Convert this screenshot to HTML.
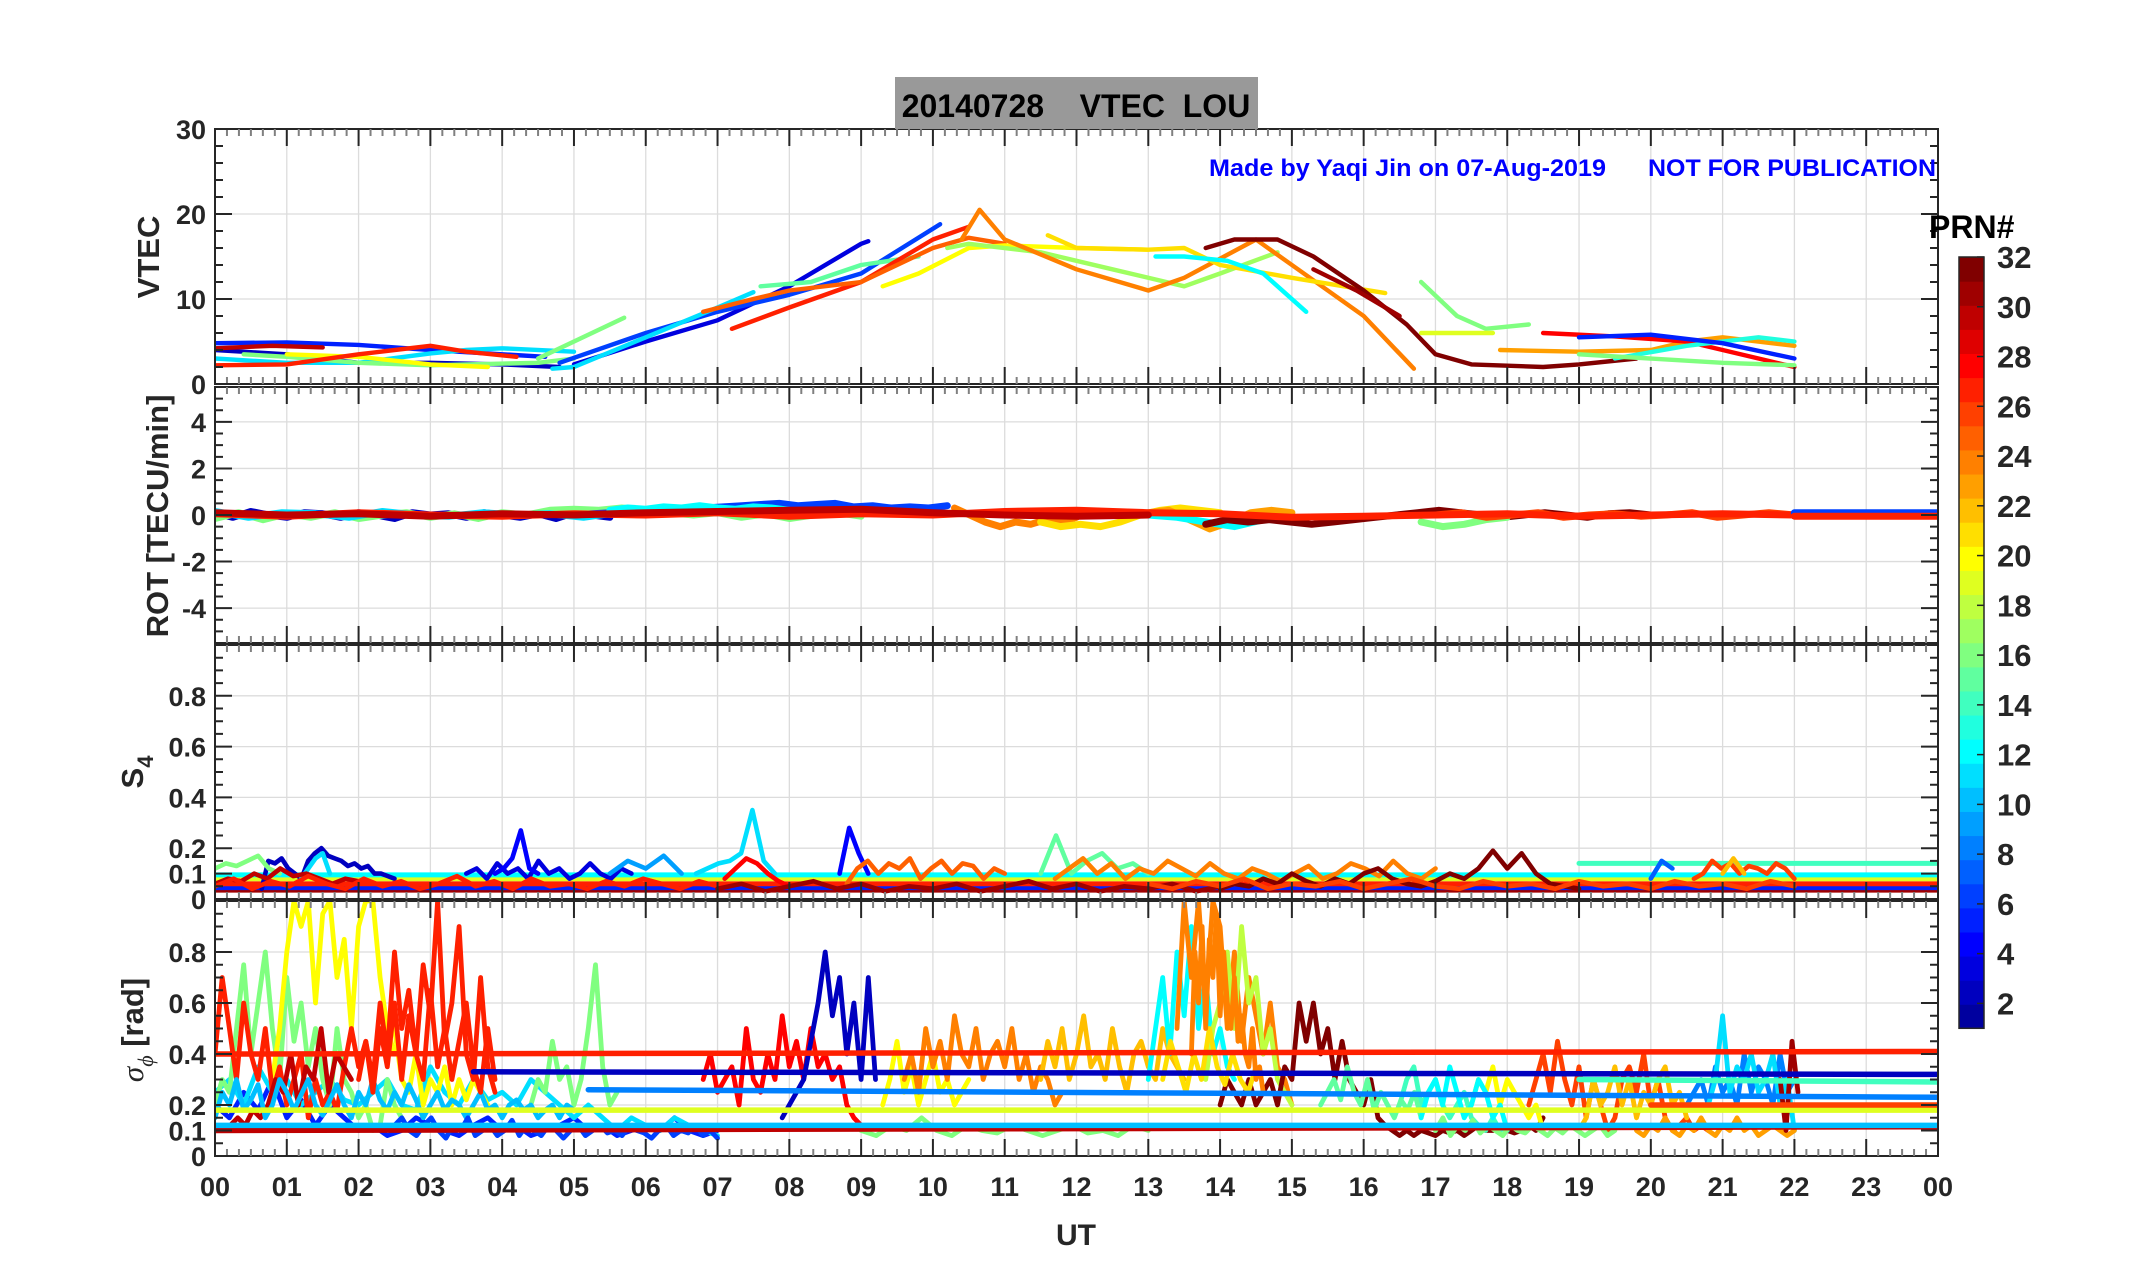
<!DOCTYPE html>
<html><head><meta charset="utf-8"><style>
html,body{margin:0;padding:0;background:#fff}
svg{display:block}
text{font-family:"Liberation Sans",Arial,sans-serif;font-weight:bold}
</style></head><body>
<svg id="fig" width="2153" height="1286" viewBox="0 0 2153 1286" xmlns="http://www.w3.org/2000/svg">
<rect x="0" y="0" width="2153" height="1286" fill="#fff"/>
<g id="grids"></g>
<g id="marks"></g>
<g id="axes"></g>
<rect x="895" y="77" width="363" height="52" fill="#999999"/>
<text x="1076" y="117" font-size="32" text-anchor="middle" fill="#000" xml:space="preserve">20140728    VTEC  LOU</text>
<text x="1209" y="176" font-size="24" fill="#0000ff" textLength="397" lengthAdjust="spacingAndGlyphs">Made by Yaqi Jin on 07-Aug-2019</text>
<text x="1648" y="176" font-size="24" fill="#0000ff" textLength="288" lengthAdjust="spacingAndGlyphs">NOT FOR PUBLICATION</text>
<text transform="translate(159,257) rotate(-90)" font-size="31" text-anchor="middle" fill="#262626">VTEC</text>
<text transform="translate(168,516) rotate(-90)" font-size="31" text-anchor="middle" fill="#262626">ROT [TECU/min]</text>
<text transform="translate(143,772) rotate(-90)" font-size="31" text-anchor="middle" fill="#262626">S<tspan font-size="22" dy="10">4</tspan></text>
<text transform="translate(143,1030) rotate(-90)" font-size="31" text-anchor="middle" fill="#262626"><tspan font-family="Liberation Serif" font-style="italic" font-weight="normal">σ</tspan><tspan font-size="22" dy="10" font-family="Liberation Serif" font-style="italic" font-weight="normal">ϕ</tspan><tspan dy="-10"> [rad]</tspan></text>
<text x="1076" y="1245" font-size="30" text-anchor="middle" fill="#262626">UT</text>
<text x="1929" y="238" font-size="32" fill="#000">PRN#</text>
<g id="cbar"></g>
</svg>
<script>
// ---------------- data ----------------
const xTickLabels=["00","01","02","03","04","05","06","07","08","09","10","11","12","13","14","15","16","17","18","19","20","21","22","23","00"];
const vtecTicks=[0,10,20,30];
const rotTicks=[-4,-2,0,2,4];
const s4Ticks=[0,0.1,0.2,0.4,0.6,0.8];
const sigTicks=[0,0.1,0.2,0.4,0.6,0.8];
const cbarTicks=[2,4,6,8,10,12,14,16,18,20,22,24,26,28,30,32];

// VTEC curves: PRN, times (h), values (TECU)
const vtecPrn=[2,5,11,16,20,27,30,3,6,11,16,15,27,25,20,17,24,21,12,32,31,16,19,23,28,13,5,16];
const vtecT=[
[0,1,2,3,4,4.8],[0,1,2,3,4,4.6],[0,1,2,3,3.5,4,5],[0.4,1,2,3,4.5,5.0],[1,2,3,3.8],[0,1,2,3,3.5,4.2],[0,0.8,1.5],
[5.0,6,7,8,9,9.1],[4.8,6,7,8,9,10.1],[4.7,5,6,7,7.5],[4.5,5.7],[7.6,8.3,9,9.8],[7.2,8,9,10,10.5],[6.8,7.5,8,9,10,10.5,11],
[9.3,9.8,10.5,11,12,13],[10.2,10.5,11.5,12.5,13.5,14,14.8],[10.4,10.65,11,12,13,13.5,14.5,15,16,16.7],[11.6,12,13,13.5,14,15,16.3],
[13.1,13.5,14.1,14.6,15.2],[13.8,14.2,14.8,15.3,16,16.6,17,17.5,18.5,19,19.8],[15.3,15.9,16.5],[16.8,17.3,17.7,18.3],[16.8,17.8],
[17.9,19,20,20.5,21,22],[18.5,19.5,20.5,21.5,22],[19.5,20.5,21.5,22],[19,20,21,22],[19,21,22]];
const vtecV=[
[4,3.5,2.5,2.5,2.3,2],[4.8,4.9,4.6,4,3.5,3.2],[3,2.5,2.5,3.6,4,4.2,3.8],[3.5,3.2,2.5,2.2,2.5,3],[3.5,3.2,2.3,2],[2.2,2.3,3.5,4.5,3.8,3.2],[4.2,4.5,4.3],
[2.3,5,7.5,11.5,16.5,16.8],[2.5,6,8.5,10.5,13,18.8],[1.8,2,5.5,9,10.8],[3,7.8],[11.5,12,14,15],[6.5,9,12,17,18.5],[8.5,10,11,12,16,17.2,16.5],
[11.5,13,16,16.3,16,15.8],[16,16.5,15.5,13.5,11.5,13,15.5],[17,20.5,17,13.5,11,12.5,17,14,8,1.8],[17.5,16,15.8,16,14,12.5,10.7],
[15,15,14.5,13,8.5],[16,17,17,15,11,7,3.5,2.3,2,2.3,3],[13.5,11,8],[12,8,6.5,7],[6,6],
[4,3.8,4,5,5.5,4.5],[6,5.6,5,3,2],[3,4.5,5.5,5],[5.5,5.8,4.8,3],[3.5,2.5,2.2]];

// ROT segments: PRN, start, end, evenly spaced values (TECU/min)
const rotPrn=[2,16,11,6,12,24,21,23,12,32,16,26,27,30,6,27];
const rotT0=[0,0,0,5,5.5,10.3,11.5,13,13,13.8,16.8,17,0,0,22,22];
const rotT1=[5.5,9,7,10.2,8,12,14,15,14.6,20,18,22,22,13,24,24];
const rotV=[
[0.1,-0.1,0.15,0,-0.1,0.1,0.05,-0.1,0.1,0,-0.15,0.1,0,0.05,-0.1,0.1,0,-0.1,0.05,-0.15,0.1,0,-0.1],
[-0.15,0.1,-0.2,0.05,-0.1,0.1,-0.15,0,0.1,-0.1,0.05,-0.15,0.1,0,0.2,0.25,0.2,0.3,0.2,0.1,0,0.1,-0.1,0.05,-0.15,0,0.1,-0.05],
[0.15,-0.1,0.1,0.05,-0.1,0.15,0,-0.05,0.1,0,0.05,-0.1,0.1,0.15,0.2,0.1],
[0,0.05,0.1,0.15,0.2,0.25,0.2,0.3,0.35,0.4,0.45,0.5,0.4,0.45,0.5,0.35,0.4,0.3,0.35,0.3,0.4],
[0.2,0.3,0.25,0.35,0.3,0.4,0.3,0.25,0.35,0.3,0.2],
[0.3,0,-0.3,-0.5,-0.3,-0.4,-0.2,-0.3,-0.1],
[-0.3,-0.5,-0.4,-0.5,-0.3,0,0.2,0.3,0.2,0.1],
[0.1,0.2,-0.2,-0.6,-0.3,0.1,0.2,0.1],
[0,-0.1,-0.3,-0.5,-0.2],
[-0.4,-0.2,-0.3,-0.2,-0.3,-0.4,-0.3,-0.2,-0.1,0,0.1,0.2,0.1,0,-0.1,0,0.1,0,-0.1,0.05,0.1,0],
[-0.3,-0.5,-0.4,-0.2,-0.1],
[0,0.1,-0.1,0,0.1,-0.1,0,0.05,-0.05,0,0.1,-0.1,0,0.1,0],
[0.05,-0.05,0.1,0,-0.05,0.05,0,0.1,-0.05,0.05,0,0.15,0.2,0.1,0.05,-0.1,-0.05,0,0.05,-0.05,0,0.05,0],
[0.1,0,0.05,-0.05,0.05,0,0.1,0.15,0.2,0.25,0.1,0,-0.05,0],
[0.1,0.1],[-0.05,-0.05]];

// S4 flat baselines: PRN, value, start, end
const s4FlatPrn=[31,5,27,19,12,14];
const s4FlatV=[0.035,0.045,0.06,0.08,0.095,0.14];
const s4FlatT0=[0,0,0,0,0,19];
const s4FlatT1=[24,24,24,24,24,24];
// S4 noisy segments
const s4Prn=[2,16,11,3,4,9,11,28,4,25,15,24,32,26,7,22,30,27,31,26];
const s4T0=[0.65,0,1.2,3.5,3.9,5.5,6.7,7.1,8.7,8.8,11.5,11.7,14,20.6,20,21,0,0,7,13];
const s4T1=[2.5,0.9,1.6,5.8,4.5,6.5,7.8,8.0,9.1,11,13,17,19,22,20.3,21.3,2,7,14,22];
const s4V=[
[0.04,0.15,0.14,0.16,0.12,0.1,0.08,0.15,0.18,0.2,0.17,0.16,0.15,0.13,0.14,0.12,0.13,0.1,0.1,0.09,0.08],
[0.12,0.14,0.13,0.15,0.17,0.12,0.1],
[0.08,0.12,0.16,0.18,0.1],
[0.1,0.12,0.08,0.14,0.1,0.12,0.08,0.15,0.1,0.12,0.08,0.1,0.14,0.1,0.08,0.12,0.1],
[0.1,0.12,0.16,0.27,0.12,0.1],
[0.1,0.15,0.12,0.17,0.1],
[0.1,0.12,0.14,0.15,0.18,0.35,0.15,0.1],
[0.08,0.12,0.16,0.14,0.1,0.07,0.05],
[0.1,0.28,0.18,0.1],
[0.06,0.12,0.15,0.1,0.14,0.12,0.16,0.08,0.12,0.15,0.1,0.14,0.13,0.08,0.12,0.1],
[0.1,0.25,0.1,0.15,0.18,0.12,0.14,0.1],
[0.08,0.12,0.16,0.1,0.14,0.08,0.12,0.1,0.15,0.12,0.09,0.14,0.1,0.08,0.12,0.1,0.07,0.1,0.13,0.08,0.1,0.14,0.12,0.09,0.15,0.1,0.08,0.12],
[0.04,0.06,0.05,0.08,0.06,0.1,0.07,0.05,0.08,0.06,0.1,0.12,0.08,0.06,0.05,0.07,0.1,0.08,0.12,0.19,0.12,0.18,0.1,0.06,0.05,0.04],
[0.08,0.1,0.15,0.12,0.14,0.1,0.13,0.12,0.1,0.14,0.12,0.08],
[0.08,0.15,0.12],
[0.1,0.16,0.1],
[0.06,0.08,0.07,0.1,0.08,0.12,0.09,0.1,0.08,0.06,0.08,0.07],
[0.05,0.08,0.04,0.07,0.05,0.09,0.06,0.04,0.08,0.05,0.07,0.04,0.06,0.09,0.05,0.07,0.04,0.08,0.05,0.06,0.04,0.07,0.05,0.08,0.06,0.04,0.07,0.05],
[0.04,0.06,0.03,0.05,0.07,0.04,0.06,0.03,0.05,0.04,0.06,0.03,0.05,0.07,0.04,0.06,0.03,0.05,0.04,0.06,0.03,0.05],
[0.06,0.04,0.07,0.05,0.08,0.04,0.06,0.05,0.07,0.04,0.06,0.08,0.05,0.04,0.07,0.05,0.06,0.04,0.07,0.05,0.06,0.04,0.07,0.05,0.06,0.04,0.07,0.05]];

// sigma-phi flat baselines
const sigFlatPrn=[30,10,19,8,2,27,14,26];
const sigFlatV0=[0.1,0.12,0.18,0.26,0.33,0.4,0.3,0.2];
const sigFlatV1=[0.115,0.12,0.18,0.23,0.32,0.41,0.29,0.2];
const sigFlatT0=[0,0,0,5.2,3.6,0,19,20];
const sigFlatT1=[24,24,24,24,24,24,24,24];
// sigma-phi noisy segments
const sigPrn=[5,11,16,16,20,20,27,30,16,28,2,20,24,22,12,24,18,32,14,20,26,8,11,23,31,10,6,27,21,24,15,12,22,16];
const sigT0=[0,0,0,4.4,0.8,2.5,0,0,9,6.8,7.9,9.3,9.6,11.5,13,13.4,13.8,14,16.5,17.5,18.3,20.5,20.8,19.8,21.8,0,2.5,2.0,13.2,13.6,15.4,16.8,19.0,17.0];
const sigT1=[7,7,2.8,5.6,2.5,3.8,3.9,1.9,13,9,9.2,10.5,11.8,13.5,14.2,15,15,18.5,18,18.5,20.8,22,22,22,22.05,5,7,3.9,14.5,14.6,16.8,18.0,20.5,19.5];
const sigV=[
[0.2,0.15,0.25,0.18,0.3,0.15,0.22,0.12,0.2,0.15,0.1,0.12,0.08,0.1,0.15,0.12,0.1,0.08,0.12,0.15,0.1,0.12,0.08,0.1,0.12,0.15,0.1,0.12,0.08,0.1,0.12,0.1,0.15,0.1,0.08,0.1],
[0.25,0.3,0.2,0.35,0.25,0.3,0.2,0.25,0.3,0.22,0.2,0.25,0.3,0.2,0.18,0.35,0.25,0.2,0.3,0.22,0.25,0.2,0.3,0.25,0.2,0.15,0.2,0.15,0.1,0.15,0.12,0.1,0.15,0.12,0.1,0.08],
[0.2,0.3,0.25,0.5,0.75,0.4,0.6,0.8,0.5,0.3,0.7,0.45,0.6,0.35,0.5,0.3,0.2,0.5,0.3,0.25,0.15,0.2,0.1,0.12,0.3,0.2,0.15,0.1,0.12],
[0.2,0.3,0.25,0.45,0.3,0.35,0.2,0.3,0.5,0.75,0.35,0.2,0.25],
[0.3,0.5,0.8,1.0,0.9,1.0,0.6,0.95,1.0,0.7,0.85,0.5,0.9,1.0,1.0,0.7,0.5,0.4],
[0.5,0.3,0.25,0.4,0.2,0.3,0.25,0.35,0.2,0.3,0.22,0.3,0.25,0.2],
[0.4,0.7,0.5,0.3,0.6,0.4,0.3,0.5,0.25,0.35,0.2,0.3,0.4,0.15,0.3,0.2,0.25,0.18,0.35,0.5,0.35,0.45,0.3,0.6,0.4,0.8,0.5,0.65,0.4,0.75,0.55,1.0,0.45,0.6,0.9,0.4,0.3,0.7,0.35,0.25],
[0.12,0.1,0.12,0.15,0.12,0.18,0.15,0.2,0.3,0.25,0.4,0.2,0.35,0.3,0.5,0.25,0.4,0.35,0.3],
[0.1,0.08,0.12,0.1,0.15,0.1,0.08,0.12,0.1,0.09,0.12,0.1,0.08,0.1,0.12,0.09,0.1,0.08,0.12,0.1],
[0.3,0.4,0.25,0.3,0.35,0.2,0.5,0.3,0.25,0.4,0.3,0.55,0.35,0.45,0.3,0.5,0.35,0.4,0.3,0.35,0.2,0.15,0.12],
[0.15,0.2,0.25,0.3,0.45,0.6,0.8,0.55,0.7,0.4,0.6,0.3,0.7,0.3],
[0.2,0.3,0.45,0.25,0.35,0.2,0.3,0.4,0.25,0.3,0.2,0.25,0.3],
[0.3,0.4,0.25,0.5,0.35,0.45,0.3,0.55,0.4,0.35,0.5,0.3,0.4,0.45,0.35,0.5,0.3,0.4,0.25,0.35,0.3,0.2,0.25],
[0.3,0.45,0.35,0.5,0.3,0.4,0.55,0.35,0.4,0.3,0.5,0.35,0.25,0.4,0.45,0.35,0.3,0.5,0.4,0.35,0.3],
[0.3,0.5,0.7,0.4,0.8,0.55,0.9,0.5,0.7,0.4,0.5,0.35,0.3],
[0.5,1.0,0.7,1.0,0.6,1.0,0.9,0.5,0.8,0.45,0.7,0.55,0.4,0.6,0.35,0.3,0.2],
[0.3,0.5,0.6,0.8,0.5,0.9,0.6,0.7,0.4,0.5,0.3,0.25,0.2],
[0.2,0.3,0.25,0.2,0.3,0.2,0.25,0.3,0.2,0.35,0.3,0.6,0.45,0.6,0.4,0.5,0.3,0.45,0.3,0.25,0.2,0.3,0.15,0.12,0.1,0.08,0.1,0.08,0.1,0.09,0.08,0.1,0.09,0.1,0.08,0.1,0.12,0.1,0.1,0.12,0.1,0.09,0.1,0.12,0.1,0.15],
[0.2,0.3,0.35,0.2,0.25,0.3,0.2,0.15,0.2,0.25,0.15,0.12,0.1,0.15,0.1,0.12],
[0.2,0.3,0.25,0.35,0.2,0.3,0.25,0.2,0.15,0.2,0.1],
[0.2,0.3,0.4,0.25,0.45,0.3,0.2,0.35,0.15,0.3,0.2,0.1,0.15,0.3,0.35,0.25,0.4,0.2,0.3,0.15,0.1,0.12,0.15,0.1,0.12,0.1],
[0.2,0.25,0.3,0.2,0.35,0.25,0.3,0.2,0.4,0.25,0.35,0.3,0.2,0.4,0.25,0.3],
[0.2,0.3,0.55,0.25,0.35,0.3,0.4,0.25,0.3,0.4,0.2,0.3,0.1],
[0.1,0.08,0.12,0.1,0.15,0.1,0.08,0.12,0.1,0.15,0.1,0.08,0.12,0.1,0.15,0.1,0.12,0.08,0.1,0.12,0.1,0.08,0.1],
[0.3,0.1,0.45,0.25],
[0.15,0.25,0.2,0.3,0.18,0.22,0.28,0.15,0.2,0.3,0.25,0.18,0.24,0.3,0.2,0.16,0.22,0.28,0.2,0.15,0.25,0.2,0.3,0.22,0.18,0.25,0.2,0.28,0.22,0.15,0.2,0.25,0.18,0.22,0.2,0.15,0.2,0.25,0.18,0.2,0.15,0.2,0.22,0.18,0.2,0.15,0.18,0.2,0.15,0.2,0.18],
[0.12,0.15,0.1,0.08,0.12,0.15,0.1,0.07,0.12,0.1,0.15,0.08,0.1,0.12,0.08,0.1,0.14,0.08,0.12,0.1,0.08,0.12,0.1,0.07,0.1,0.12,0.08,0.1,0.12,0.09,0.1,0.08,0.12,0.1,0.09,0.07,0.1,0.12,0.08,0.1,0.09,0.12,0.08,0.1,0.07],
[0.3,0.45,0.25,0.5,0.35,0.6,0.3,0.55,0.4,0.3,0.65,0.35,0.5,0.3,0.45,0.6,0.35,0.25,0.5,0.3],
[0.3,0.45,0.35,0.25,0.4,0.3,0.5,0.35,0.28,0.4,0.3,0.25,0.35],
[0.4,0.8,0.6,0.9,0.5,0.85,0.7,0.95,0.55,0.8,0.6,0.5,0.7,0.45,0.55,0.4,0.35,0.5,0.3,0.35,0.25],
[0.2,0.25,0.3,0.22,0.35,0.25,0.2,0.3,0.18,0.25,0.2,0.15,0.22,0.18,0.25,0.15],
[0.15,0.25,0.3,0.2,0.35,0.25,0.15,0.2,0.3,0.25,0.15,0.2,0.1],
[0.1,0.15,0.3,0.2,0.25,0.35,0.2,0.3,0.15,0.25,0.2,0.3,0.35,0.2,0.25,0.15],
[0.1,0.15,0.08,0.12,0.1,0.14,0.09,0.12,0.1,0.08,0.12,0.1,0.09,0.12,0.1,0.08,0.11,0.09,0.12,0.1,0.08,0.1,0.12,0.08,0.1]];

// ---------------- layout ----------------
const NS="http://www.w3.org/2000/svg";
const X0=215,X1=1938;
const panels=[
 {name:"vtec",top:129,bot:384,min:0,max:30,ticks:vtecTicks,minor:2,grid:vtecTicks},
 {name:"rot",top:387,bot:643,min:-5.5,max:5.5,ticks:rotTicks,minor:0.5,grid:rotTicks},
 {name:"s4",top:645,bot:899,min:0,max:1,ticks:s4Ticks,minor:0.05,grid:[0.2,0.4,0.6,0.8]},
 {name:"sigma",top:901,bot:1156,min:0,max:1,ticks:sigTicks,minor:0.05,grid:[0.2,0.4,0.6,0.8]}];
function xS(h){return X0+h*(X1-X0)/24;}
function yS(p,v){return p.bot-(v-p.min)*(p.bot-p.top)/(p.max-p.min);}
function el(tag,attrs,parent){const e=document.createElementNS(NS,tag);for(const k in attrs)e.setAttribute(k,attrs[k]);parent.appendChild(e);return e;}
function jet(m){const n=Math.ceil(m/4);const u=[];for(let i=1;i<=n;i++)u.push(i/n);for(let i=1;i<n;i++)u.push(1);for(let i=n;i>=1;i--)u.push(i/n);
 const g0=Math.ceil(n/2)-((m%4)===1?1:0);const J=[];for(let i=0;i<m;i++)J.push([0,0,0]);
 for(let k=0;k<u.length;k++){const g=g0+k+1,r=g+n,b=g-n;if(r>=1&&r<=m)J[r-1][0]=u[k];if(g>=1&&g<=m)J[g-1][1]=u[k];if(b>=1&&b<=m)J[b-1][2]=u[k];}
 return J.map(c=>"rgb("+c.map(v=>Math.round(v*255)).join(",")+")");}
const cmap=jet(32);
function col(prn){return cmap[Math.max(1,Math.min(32,prn))-1];}

const svg=document.getElementById("fig");
const grids=document.getElementById("grids"),marks=document.getElementById("marks"),axes=document.getElementById("axes");
const defs=el("defs",{},svg);
panels.forEach(p=>{const c=el("clipPath",{id:"clip-"+p.name},defs);el("rect",{x:X0,y:p.top,width:X1-X0,height:p.bot-p.top},c);});

panels.forEach((p,pi)=>{
 for(let h=1;h<24;h++){const g=el("line",{x1:xS(h),x2:xS(h),y1:p.top,y2:p.bot,stroke:"#dcdcdc","stroke-width":1.3},grids);
  
  }
 p.grid.forEach(v=>{if(v===p.min||v===p.max)return;const g=el("line",{x1:X0,x2:X1,y1:yS(p,v),y2:yS(p,v),stroke:"#dcdcdc","stroke-width":1.3},grids);
  
  });
 const box=el("rect",{x:X0,y:p.top,width:X1-X0,height:p.bot-p.top,fill:"none",stroke:"#262626","stroke-width":2},axes);
 
 
 let d="";
 for(let m=0;m<=144;m++){const x=xS(m/6);if(m%6===0){d+=`M${x} ${p.top}v17M${x} ${p.bot}v-17`;}}
 el("path",{d:d,stroke:"#262626","stroke-width":2,fill:"none"},axes);
 let dm="";
 for(let m=0;m<=144;m++){const x=xS(m/6);if(m%6!==0){dm+=`M${x} ${p.top}v7M${x} ${p.bot}v-7`;}}
 el("path",{d:dm,stroke:"#808080","stroke-width":2,fill:"none"},axes);
 let dy="";
 const nmin=Math.round((p.max-p.min)/p.minor);
 for(let k=0;k<=nmin;k++){const v=p.min+k*p.minor;const y=yS(p,v);const major=p.ticks.some(t=>Math.abs(t-v)<1e-6);const L=major?17:8;dy+=`M${X0} ${y}h${L}M${X1} ${y}h${-L}`;}
 el("path",{d:dy,stroke:"#262626","stroke-width":2,fill:"none"},axes);
 p.ticks.forEach(v=>{const t=el("text",{x:206,y:yS(p,v)+10,"font-size":27,"text-anchor":"end",fill:"#262626"},axes);t.textContent=String(v);
  
  });
});
xTickLabels.forEach((s,i)=>{const t=el("text",{x:xS(i),y:1196,"font-size":27,"text-anchor":"middle",fill:"#262626"},axes);t.textContent=s;
 
 });

function drawLine(p,prn,ts,vs,w,name){
 const d=ts.map((t,i)=>(i?"L":"M")+xS(t).toFixed(1)+" "+yS(p,vs[i]).toFixed(1)).join("");
 const e=el("path",{d:d,fill:"none",stroke:col(prn),"stroke-width":w,"stroke-linejoin":"round","stroke-linecap":"round","clip-path":"url(#clip-"+p.name+")"},marks);
 
 
}
function even(t0,t1,n){const a=[];for(let i=0;i<n;i++)a.push(n===1?t0:t0+(t1-t0)*i/(n-1));return a;}

vtecPrn.forEach((prn,i)=>drawLine(panels[0],prn,vtecT[i],vtecV[i],4.4,'vtec-prn'+prn));
rotPrn.forEach((prn,i)=>drawLine(panels[1],prn,even(rotT0[i],rotT1[i],rotV[i].length),rotV[i],7,'rot-prn'+prn));
s4FlatPrn.forEach((prn,i)=>drawLine(panels[2],prn,[s4FlatT0[i],s4FlatT1[i]],[s4FlatV[i],s4FlatV[i]],5,'s4-baseline-prn'+prn));
s4Prn.forEach((prn,i)=>drawLine(panels[2],prn,even(s4T0[i],s4T1[i],s4V[i].length),s4V[i],4.6,'s4-prn'+prn));
sigPrn.forEach((prn,i)=>drawLine(panels[3],prn,even(sigT0[i],sigT1[i],sigV[i].length),sigV[i],4.8,'sigma-prn'+prn));
sigFlatPrn.forEach((prn,i)=>drawLine(panels[3],prn,[sigFlatT0[i],sigFlatT1[i]],[sigFlatV0[i],sigFlatV1[i]],5.5,'sigma-baseline-prn'+prn));

const cb=document.getElementById("cbar");
const CBX=1959,CBW=25,CBT=257,CBB=1028.3;
function cbY(v){return CBB-(v-1)*(CBB-CBT)/31;}
for(let i=0;i<32;i++){const h=(CBB-CBT)/32;const r=el("rect",{x:CBX,y:CBB-(i+1)*h,width:CBW,height:h+0.6,fill:cmap[i]},cb);
 
 }
el("rect",{x:CBX,y:CBT,width:CBW,height:CBB-CBT,fill:"none",stroke:"#262626","stroke-width":1.5},cb);
cbarTicks.forEach(v=>{const y=cbY(v);el("line",{x1:CBX+CBW-7,x2:CBX+CBW,y1:y,y2:y,stroke:"#262626","stroke-width":1.5},cb);
 const t=el("text",{x:1997,y:y+11,"font-size":31,fill:"#262626"},cb);t.textContent=String(v);
 
 });
</script>
</body></html>
